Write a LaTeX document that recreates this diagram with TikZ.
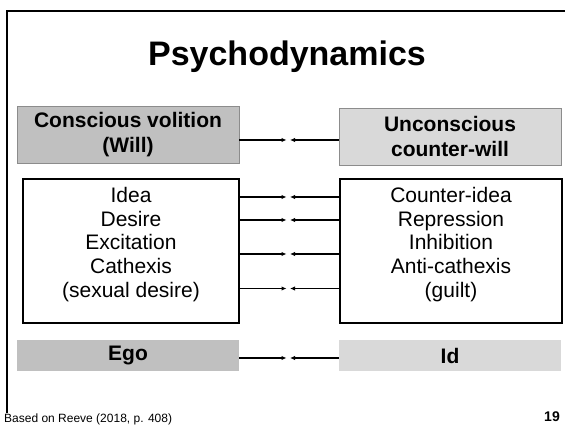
\documentclass[tikz,border=0pt]{standalone}
\usepackage{fontspec}
\setmainfont{Liberation Sans}
\usetikzlibrary{arrows.meta}
\definecolor{darkfill}{HTML}{C0C0C0}
\definecolor{lightfill}{HTML}{D9D9D9}
\definecolor{boxedge}{HTML}{8C8C8C}
\begin{document}
\begin{tikzpicture}[x=1pt,y=-1pt,
  headfont/.style={font=\fontsize{21}{24.3}\selectfont\bfseries, align=center},
  bodyfont/.style={font=\fontsize{21}{23.75}\selectfont, align=center},
  topbox/.style={draw=boxedge, line width=0.8pt, minimum width=222pt, minimum height=57pt, inner sep=0pt, headfont},
  midbox/.style={draw=black, line width=1.2pt, fill=white, minimum height=144pt, inner sep=0pt},
  basebox/.style={minimum width=222pt, minimum height=31pt, inner sep=0pt, headfont},
  conn/.style={line width=1.3pt, -{Latex[length=5pt,width=4.5pt]}}
]
\useasboundingbox (0,0) rectangle (565,427);
% frame
\draw[line width=2.2pt] (7,413) -- (7,11.3) -- (567,11.3);
% title
\node[anchor=base, font=\fontsize{34}{40}\selectfont\bfseries] (title) at (287,66) {Psychodynamics};
% top row
\node[topbox, fill=darkfill] (will) at (128,134.5) {Conscious volition\\(Will)};
\node[topbox, fill=lightfill] (cwill) at (450,136.5) {Unconscious\\counter-will};
% middle row
\node[midbox, minimum width=216pt] (ego1) at (131,251) {};
\node[midbox, minimum width=222pt] (id1) at (451,251) {};
\node[bodyfont] (ego1t) at ([yshift=6.5pt]ego1.center) {Idea\\Desire\\Excitation\\Cathexis\\(sexual desire)};
\node[bodyfont] (id1t) at ([yshift=6.5pt]id1.center) {Counter-idea\\Repression\\Inhibition\\Anti-cathexis\\(guilt)};
% bottom row
\node[basebox, fill=darkfill] (ego) at (128,355.5) {Ego};
\node[basebox, fill=lightfill] (id) at (450,355.5) {Id};
% meeting points
\coordinate (l0) at (286.5,140);
\coordinate (r0) at (290,140);
\coordinate (l1) at (286.5,197);
\coordinate (r1) at (290,197);
\coordinate (l2) at (286.5,220);
\coordinate (r2) at (290,220);
\coordinate (l3) at (286.5,254);
\coordinate (r3) at (290,254);
\coordinate (l4) at (286.5,288.5);
\coordinate (r4) at (290,288.5);
\coordinate (l5) at (286.5,358);
\coordinate (r5) at (290,358);
% connectors
\draw[conn] (l0 -| will.east) -- (l0);
\draw[conn] (r0 -| cwill.west) -- (r0);
\draw[conn] (l1 -| ego1.east) -- (l1);
\draw[conn] (r1 -| id1.west) -- (r1);
\draw[conn] (l2 -| ego1.east) -- (l2);
\draw[conn] (r2 -| id1.west) -- (r2);
\draw[conn] (l3 -| ego1.east) -- (l3);
\draw[conn] (r3 -| id1.west) -- (r3);
\draw[conn] (l4 -| ego1.east) -- (l4);
\draw[conn] (r4 -| id1.west) -- (r4);
\draw[conn] (l5 -| ego.east) -- (l5);
\draw[conn] (r5 -| id.west) -- (r5);
% footer
\node[anchor=base west, inner sep=0pt, font=\fontsize{12}{14}\selectfont] (src) at (4,423) {Based on Reeve (2018, p. 408)};
\node[anchor=base east, inner sep=0pt, font=\fontsize{14}{16}\selectfont\bfseries] (page) at (560,421) {19};
\end{tikzpicture}
\end{document}
